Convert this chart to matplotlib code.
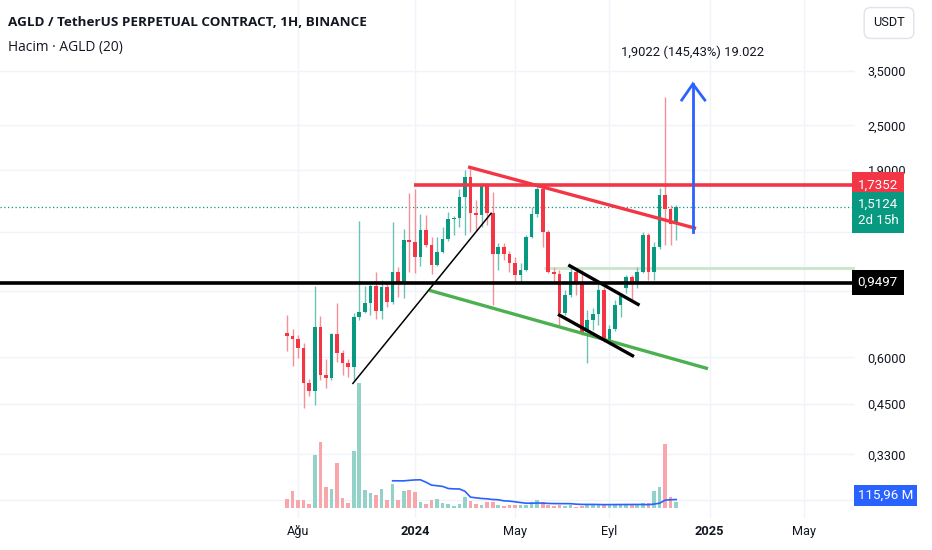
import numpy as np
import pandas as pd
import matplotlib
matplotlib.use("Agg")
import matplotlib.pyplot as plt
import matplotlib.dates as mdates
from matplotlib.transforms import blended_transform_factory, offset_copy

plt.rcParams['font.family'] = ['Roboto', 'DejaVu Sans']

# weekly candles
dates = pd.date_range('2023-07-24', periods=71, freq='7D')
opens = [0.698, 0.684, 0.673, 0.637, 0.511, 0.488, 0.724, 0.538, 0.527, 0.693,
         0.617, 0.580, 0.566, 0.770, 0.792, 0.840, 0.931, 0.800, 0.923, 0.845,
         1.012, 0.950, 1.235, 1.222, 1.110, 1.313, 1.198, 1.059, 1.145, 1.240,
         1.403, 1.417, 1.612, 1.823, 1.461, 1.440, 1.732, 1.461, 1.133, 1.185,
         1.133, 1.070, 0.996, 1.027, 1.260, 1.447, 1.687, 1.300, 1.016, 1.002,
         0.789, 0.880, 1.016, 0.946, 0.700, 0.755, 0.783, 0.908, 0.667, 0.713,
         0.828, 0.920, 0.985, 0.946, 1.016, 1.274, 1.016, 1.185, 1.629, 1.492,
         1.363]
highs = [0.778, 0.714, 0.688, 0.655, 0.525, 0.931, 0.774, 0.594, 0.698, 0.838,
         0.628, 0.594, 0.789, 1.391, 0.931, 0.942, 1.016, 0.966, 0.956, 1.377,
         1.048, 1.319, 1.646, 1.687, 1.447, 1.440, 1.260, 1.255, 1.340, 1.470,
         1.431, 1.687, 1.900, 1.920, 1.580, 1.751, 1.751, 1.663, 1.210, 1.214,
         1.156, 1.114, 1.072, 1.274, 1.516, 1.751, 1.714, 1.313, 1.048, 1.027,
         0.908, 1.059, 1.038, 1.027, 0.803, 0.811, 0.942, 0.926, 0.732, 0.854,
         0.893, 0.996, 0.996, 1.048, 1.300, 1.287, 1.222, 1.700, 2.983, 1.532,
         1.532]
lows = [0.625, 0.570, 0.599, 0.439, 0.473, 0.447, 0.522, 0.497, 0.522, 0.584,
        0.538, 0.533, 0.522, 0.755, 0.787, 0.778, 0.758, 0.758, 0.819, 0.833,
        0.871, 0.863, 1.016, 1.006, 1.052, 1.181, 1.002, 1.052, 1.138, 1.229,
        1.274, 1.340, 1.274, 1.300, 1.313, 1.340, 1.354, 0.828, 1.027, 1.092,
        1.016, 0.961, 0.948, 1.020, 1.248, 1.425, 1.185, 1.006, 0.946, 0.732,
        0.778, 0.871, 0.880, 0.688, 0.580, 0.710, 0.732, 0.660, 0.654, 0.707,
        0.770, 0.890, 0.848, 0.918, 1.006, 0.966, 0.966, 1.166, 1.198, 1.198,
        1.235]
closes = [0.684, 0.673, 0.637, 0.511, 0.488, 0.724, 0.538, 0.527, 0.693, 0.617,
          0.580, 0.566, 0.770, 0.792, 0.840, 0.931, 0.798, 0.923, 0.845, 1.012,
          0.950, 1.235, 1.222, 1.110, 1.313, 1.198, 1.059, 1.145, 1.240, 1.403,
          1.417, 1.612, 1.823, 1.461, 1.440, 1.732, 1.461, 1.133, 1.185, 1.133,
          1.070, 0.996, 1.027, 1.260, 1.447, 1.687, 1.300, 1.016, 1.002, 0.789,
          0.880, 1.016, 0.946, 0.696, 0.755, 0.783, 0.908, 0.667, 0.713, 0.828,
          0.875, 0.985, 0.942, 1.016, 1.274, 1.016, 1.185, 1.629, 1.492, 1.363,
          1.5124]
volume_m = [126, 234, 108, 108, 54, 720, 895, 288, 265, 612,
            139, 76, 774, 1690, 243, 211, 180, 265, 112, 328,
            112, 230, 247, 220, 89, 58, 116, 126, 76, 54,
            35, 62, 149, 99, 58, 41, 81, 81, 45, 35,
            41, 45, 41, 49, 89, 108, 85, 45, 35, 41,
            35, 45, 22, 31, 49, 49, 49, 49, 54, 49,
            49, 49, 49, 58, 72, 72, 230, 284, 868, 149,
            89]

# 1,3000 / 0,9000 / 0,2500 sit behind the price labels
price_ticks = [3.5, 2.5, 1.9, 1.3, 0.9, 0.6, 0.45, 0.33, 0.25]
price_tick_labels = ['3,5000', '2,5000', '1,9000', '', '',
                     '0,6000', '0,4500', '0,3300', '']
time_ticks = pd.to_datetime(['2023-08-07', '2024-01-01', '2024-05-06',
                             '2024-09-02', '2025-01-06', '2025-05-05'])
time_labels = ['Ağu', '2024', 'May', 'Eyl', '2025', 'May']

# drawings (date, price)
resistance = 1.7352
resistance_from = pd.Timestamp('2023-12-31')
support = 0.9497
green_level = 1.0415
green_level_from = pd.Timestamp('2024-06-11')
red_trend = (pd.to_datetime(['2024-03-10', '2024-12-18']), [1.932, 1.330])
green_trend = (pd.to_datetime(['2024-01-21', '2025-01-02']), [0.904, 0.561])
black_thin = (pd.to_datetime(['2023-10-15', '2024-04-06']), [0.511, 1.456])
flag_top = (pd.to_datetime(['2024-07-14', '2024-10-08']), [1.054, 0.831])
flag_bottom = (pd.to_datetime(['2024-07-01', '2024-10-01']), [0.778, 0.606])
arrow_x = pd.Timestamp('2024-12-16')
arrow_y = [1.300, 3.226]
arrow_wing_x = pd.to_datetime(['2024-12-02', '2024-12-16', '2024-12-31'])
arrow_wing_y = [2.923, 3.226, 2.923]
arrow_text = '1,9022 (145,43%) 19.022'
arrow_text_y = 3.91
last_price = 1.5124

GREEN = '#089981'
RED = '#F23645'
TXT = '#131722'

W, H = 932, 550
fig = plt.figure(figsize=(W / 100, H / 100), dpi=100)
fig.patch.set_facecolor('white')
ax = fig.add_axes([0, 32 / H, 855 / W, 518 / H])
ax.set_yscale('log')
ax.set_ylim(0.2232, 5.41)
x0 = dates[0]
ax.set_xlim(mdates.date2num(x0 - pd.Timedelta(days=361.3)),
            mdates.date2num(x0 + pd.Timedelta(days=715.1)))

for s in ax.spines.values():
    s.set_visible(False)
ax.set_axisbelow(True)
ax.grid(True, color='#f0f3fa', lw=1)

ax.yaxis.tick_right()
ax.set_yticks(price_ticks)
ax.set_yticklabels(price_tick_labels)
ax.yaxis.set_minor_locator(matplotlib.ticker.NullLocator())
ax.tick_params(axis='y', length=0, pad=9, labelsize=9.2, labelcolor=TXT)
ax.set_xticks(mdates.date2num(time_ticks))
ax.set_xticklabels(time_labels)
ax.tick_params(axis='x', length=0, pad=5, labelsize=9.2, labelcolor=TXT)
for lbl in ax.get_xticklabels():
    if lbl.get_text() in ('2024', '2025'):
        lbl.set_fontweight('bold')

# candles
o = np.array(opens); c = np.array(closes)
up = c >= o
cols = np.where(up, GREEN, RED)
wick_cols = np.where(up, '#6cc3b5', '#f78f98')
xd = mdates.date2num(dates)
ax.vlines(xd, lows, highs, colors=wick_cols, lw=1, zorder=3)
bottoms = np.minimum(o, c)
heights = np.maximum(np.abs(c - o), bottoms * 0.008)
ax.bar(xd, heights, bottom=bottoms, width=4.6, color=cols, zorder=4)

# levels and drawings
ax.axhline(support, color='black', lw=2.6, zorder=5)
ax.hlines(resistance, mdates.date2num(resistance_from), ax.get_xlim()[1],
          color=RED, lw=2.6, zorder=5)
ax.hlines(green_level, mdates.date2num(green_level_from), ax.get_xlim()[1],
          color='#c8e6c9', lw=2, zorder=2)
ax.axhline(last_price, color=GREEN, lw=0.9, ls=(0, (1, 2)), zorder=2)
ax.plot(mdates.date2num(red_trend[0]), red_trend[1], color=RED, lw=2.4, zorder=5)
ax.plot(mdates.date2num(green_trend[0]), green_trend[1], color='#4caf50', lw=2.4, zorder=5)
ax.plot(mdates.date2num(black_thin[0]), black_thin[1], color='black', lw=1.1, zorder=5)
ax.plot(mdates.date2num(flag_top[0]), flag_top[1], color='black', lw=2.4, zorder=5)
ax.plot(mdates.date2num(flag_bottom[0]), flag_bottom[1], color='black', lw=2.4, zorder=5)
ax.plot([mdates.date2num(arrow_x)] * 2, arrow_y, color='#2962FF', lw=2, zorder=5)
ax.plot(mdates.date2num(arrow_wing_x), arrow_wing_y, color='#2962FF', lw=2,
        zorder=5, solid_joinstyle='miter')
ax.text(mdates.date2num(arrow_x), arrow_text_y, arrow_text, ha='center', va='center',
        fontsize=9.4, color=TXT, zorder=6)

# price labels on the scale
trans = blended_transform_factory(ax.transAxes, ax.transData)
box = dict(boxstyle='square,pad=0.45', ec='none')
ax.text(1.003, resistance, '1,7352', transform=trans, ha='left', va='center',
        color='white', fontsize=9.6, bbox=dict(box, fc=RED), clip_on=False, zorder=10)
ax.text(1.003, last_price, '1,5124\n2d 15h',
        transform=offset_copy(trans, fig=fig, x=0, y=9, units='dots'),
        ha='left', va='top', color='white', fontsize=9.6, linespacing=1.3,
        bbox=dict(box, fc=GREEN), clip_on=False, zorder=10)
ax.text(1.003, support, '0,9497', transform=trans, ha='left', va='center',
        color='white', fontsize=9.6, bbox=dict(box, fc='black'), clip_on=False, zorder=10)

# volume pane
vax = fig.add_axes([0, (H - 508.3) / H, 855 / W, 128.3 / H])
vax.set_xlim(ax.get_xlim())
vax.set_ylim(0, 128.3 * 13.5)
vax.axis('off')
vcols = np.where(up, '#92d2c9', '#f8a5ab')
vax.bar(xd, volume_m, width=4.6, color=vcols)
vma = pd.Series(volume_m).rolling(20).mean()
vax.plot(xd, vma, color='#2962FF', lw=1.2)
vtrans = blended_transform_factory(vax.transAxes, vax.transData)
vax.text(1.003, vma.iloc[-1], '115,96 M',
         transform=offset_copy(vtrans, fig=fig, x=0, y=4, units='dots'),
         ha='left', va='center', color='white', fontsize=9.6,
         bbox=dict(boxstyle='square,pad=0.3', ec='none', fc='#2962FF'),
         clip_on=False, zorder=10)

# header
fig.text(8 / W, 1 - 23 / H, 'AGLD / TetherUS PERPETUAL CONTRACT, 1H, BINANCE',
         family=['Open Sans', 'DejaVu Sans'], fontweight='bold', fontsize=9.7,
         color=TXT, va='center')
fig.text(8 / W, 1 - 47 / H, 'Hacim · AGLD (20)', family=['Open Sans', 'DejaVu Sans'],
         fontsize=9.9, color=TXT, va='center')
fig.text(889 / W, 1 - 23 / H, 'USDT', ha='center', va='center', fontsize=9.2, color=TXT,
         bbox=dict(boxstyle='round,pad=0.7,rounding_size=0.5', fc='white', ec='#e0e3eb'))

fig.savefig('out.png', dpi=100)
